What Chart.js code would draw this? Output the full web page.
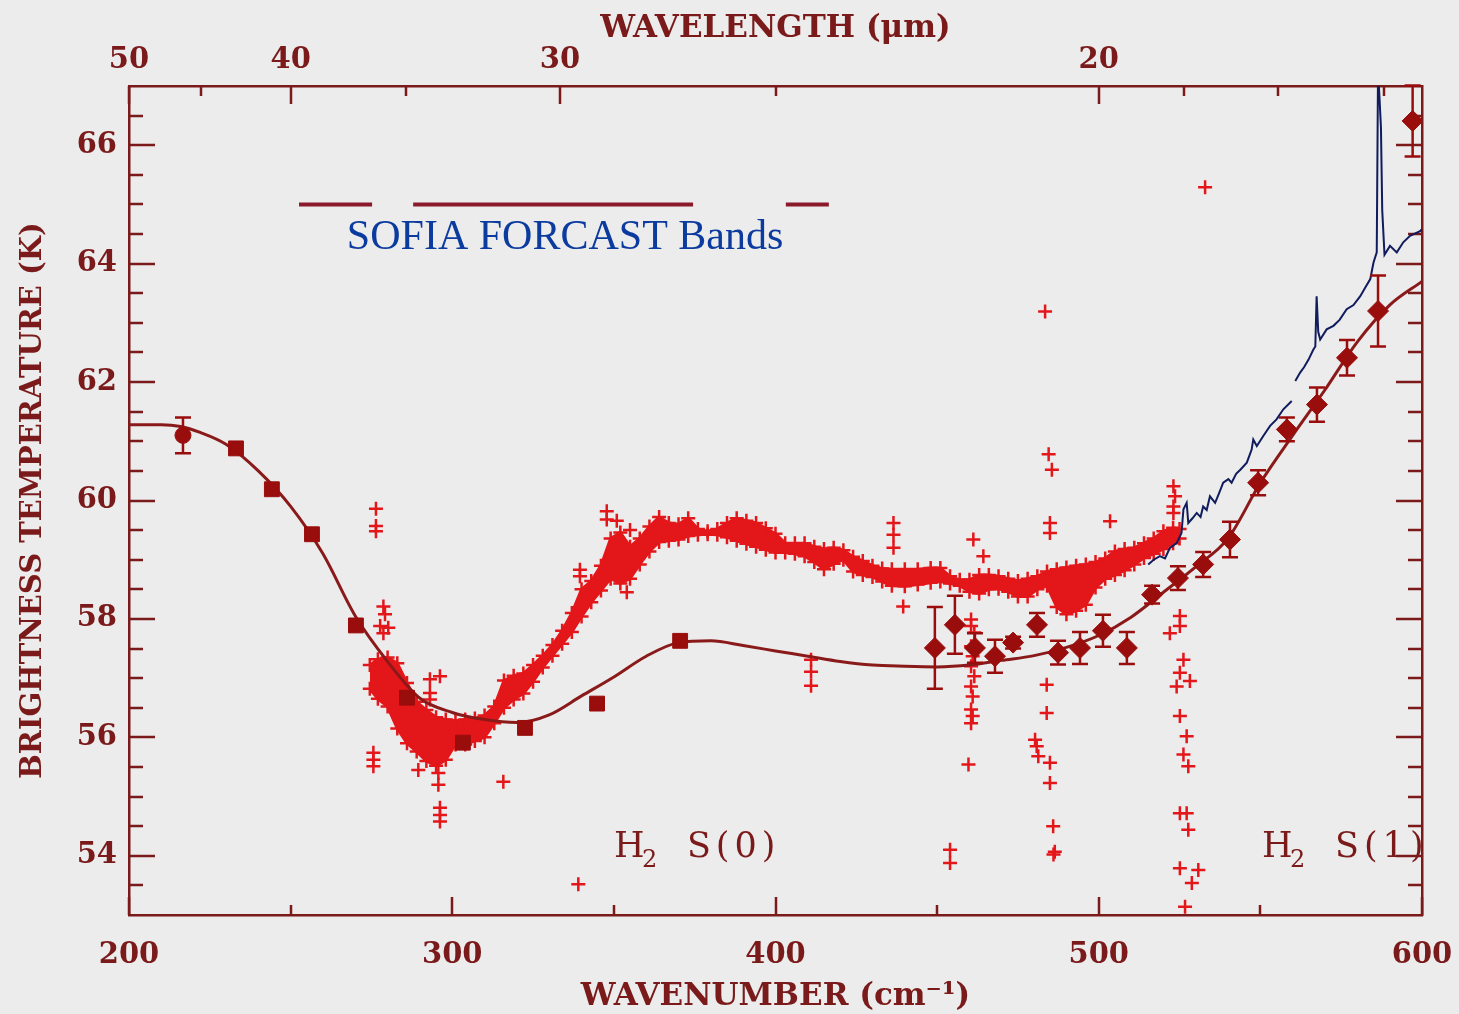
<!DOCTYPE html>
<html>
<head>
<meta charset="utf-8">
<title>Brightness temperature vs wavenumber</title>
<script src="https://cdn.jsdelivr.net/npm/chart.js@4.4.1/dist/chart.umd.min.js"></script>
<style>
  html, body { margin: 0; padding: 0; background: #ececec; }
  #wrap { width: 1459px; height: 1014px; position: relative; }
</style>
</head>
<body>
<div id="wrap"><canvas id="spec"></canvas></div>
<script>
/* ── colours ─────────────────────────────────────────── */
const C_AXIS  = '#7a1a1a';
const C_FIT   = '#8a1a1a';
const C_MARK  = '#9a0d0d';
const C_PLUS  = '#e3161a';
const C_NAVY  = '#101c5e';
const C_SOFIA = '#0b3b9f';

/* ── axis ticks ──────────────────────────────────────── */
const wnMajor   = [200, 300, 400, 500, 600];
const wnMinor   = [250, 350, 450, 550];
const tempMajor = [54, 56, 58, 60, 62, 64, 66];
const tempMinor = [53.5, 54.5, 55, 55.5, 56.5, 57, 57.5, 58.5, 59, 59.5, 60.5, 61,
                   61.5, 62.5, 63, 63.5, 64.5, 65, 65.5, 66.5];
const lamMajor  = [50, 40, 30, 20];          // µm
const lamMinor  = [45, 35, 25, 19, 18, 17];

/* ── model fit ───────────────────────────────────────── */
const fitWn = [200, 210, 216, 222, 230, 240, 250, 260, 270, 280, 290, 300, 310, 320, 330,
               340, 350, 360, 370, 380, 390, 400, 410, 420, 430, 440, 450, 460, 470, 480,
               490, 500, 510, 520, 530, 540, 550, 560, 570, 580, 590, 600];
const fitK  = [61.28, 61.28, 61.25, 61.15, 60.95, 60.5, 59.9, 59.1, 58.05, 57.28, 56.66, 56.42,
               56.3, 56.25, 56.38, 56.7, 57.02, 57.37, 57.6, 57.63, 57.55, 57.46, 57.37, 57.28,
               57.22, 57.2, 57.19, 57.22, 57.3, 57.38, 57.52, 57.72, 58.03, 58.45, 58.88, 59.36,
               60.3, 61.1, 61.87, 62.68, 63.3, 63.7];

/* ── broadband points ────────────────────────────────── */
const circWn = [216.7];
const circK  = [61.1];
const circErr = [0.3];

const sqWn = [233.1, 244.2, 256.6, 270.2, 286.0, 303.3, 322.5, 344.8, 370.5];
const sqK  = [60.88, 60.19, 59.43, 57.89, 56.67, 55.91, 56.16, 56.57, 57.63];

const dmWn  = [449.3, 455.5, 461.7, 467.9, 473.5, 480.9, 487.4, 494.2, 501.3, 508.7,
               516.5, 524.5, 532.3, 540.6, 549.3, 558.2, 567.5, 576.8, 586.4, 597.1];
const dmK   = [57.51, 57.9, 57.51, 57.37, 57.6, 57.9, 57.43, 57.51, 57.8, 57.51,
               58.41, 58.69, 58.92, 59.34, 60.3, 61.2, 61.62, 62.41, 63.2, 66.41];
const dmErr = [0.69, 0.49, 0.25, 0.28, 0.1, 0.2, 0.2, 0.27, 0.27, 0.27,
               0.15, 0.2, 0.21, 0.3, 0.21, 0.2, 0.29, 0.3, 0.6, 0.6];

/* ── spectrum: dense band of samples (upper / lower envelope) ── */
const bandWn = [274.5, 277, 280, 283, 286, 289, 292, 295, 298, 301, 304, 307, 310, 313, 316,
                319, 322, 325, 328, 331, 334, 337, 340, 343, 346, 349, 352, 355, 358, 361,
                364, 367, 370, 373, 376, 379, 382, 385, 388, 391, 394, 397, 400, 403, 406,
                409, 412, 415, 418, 421, 424, 427, 430, 433, 436, 440, 444, 448, 451, 454,
                457, 460, 463, 466, 469, 472, 475, 478, 481, 484, 487, 490, 493, 496, 499,
                502, 505, 508, 511, 514, 517, 520, 523, 525];
const bandHi = [57.22, 57.32, 57.35, 57.25, 56.92, 56.6, 56.46, 56.34, 56.3, 56.28, 56.3, 56.32, 56.37, 56.52, 56.96,
                57.04, 57.08, 57.22, 57.38, 57.56, 57.8, 58.1, 58.5, 58.64, 58.9, 59.36, 59.46, 59.22, 59.36, 59.56,
                59.72, 59.62, 59.6, 59.7, 59.52, 59.48, 59.52, 59.62, 59.7, 59.66, 59.62, 59.53, 59.44, 59.28, 59.28,
                59.28, 59.22, 59.18, 59.2, 59.16, 59.05, 58.98, 58.9, 58.85, 58.84, 58.84, 58.84, 58.86, 58.86, 58.72,
                58.66, 58.66, 58.74, 58.74, 58.72, 58.68, 58.64, 58.68, 58.72, 58.8, 58.84, 58.87, 58.9, 58.92, 58.96,
                59.02, 59.14, 59.18, 59.2, 59.28, 59.36, 59.48, 59.54, 59.52];
const bandLo = [56.82, 56.65, 56.52, 56.15, 55.9, 55.76, 55.6, 55.52, 55.62, 55.88, 55.88, 55.94, 56.0, 56.24, 56.5,
                56.64, 56.74, 56.94, 57.18, 57.38, 57.58, 57.78, 58.04, 58.28, 58.48, 58.68, 58.6, 58.68, 58.92, 59.14,
                59.3, 59.32, 59.34, 59.4, 59.42, 59.43, 59.42, 59.38, 59.32, 59.27, 59.22, 59.17, 59.12, 59.12, 59.1,
                59.06, 58.96, 58.84, 58.93, 59.0, 58.8, 58.74, 58.71, 58.63, 58.56, 58.55, 58.58, 58.61, 58.63, 58.6,
                58.56, 58.46, 58.43, 58.5, 58.51, 58.46, 58.38, 58.38, 58.5, 58.56, 58.2, 58.08, 58.14, 58.24, 58.53,
                58.68, 58.74, 58.82, 58.92, 59.03, 59.1, 59.18, 59.28, 59.36];

/* ── spectrum: scattered samples away from the band ──── */
const plusWn = [276.4, 276.4, 276.4, 278.7, 279.2, 277.7, 280.2, 278.7, 275.6, 275.6, 275.6,
                293.1, 296.2, 293.1, 293.1, 289.5, 295.7, 295.7, 296.2, 296.2, 296.2, 315.8, 339.0,
                339.5, 339.5, 347.8, 347.8, 350.9, 355.0, 354.0, 411.0, 411.0, 411.0,
                436.5, 436.5, 436.5, 439.5, 454.0, 454.0, 461.2, 464.3,
                460.5, 460.5, 461.5, 460.5, 461.0, 460.5, 461.5, 460.5, 461.0, 460.5, 461.0, 460.5, 459.7,
                483.4, 484.5, 485.5, 484.9, 484.9, 483.9, 483.9, 480.3, 480.8, 481.3, 484.9, 484.9,
                485.9, 486.4, 486.0, 503.5, 523.1, 523.6, 523.1, 523.1,
                525.1, 525.1, 522.0, 526.2, 525.1, 528.2, 524.1, 525.1, 527.2, 526.2, 527.7,
                525.1, 527.2, 527.7, 525.1, 530.8, 528.8, 526.7, 532.9];
const plusK  = [59.86, 59.57, 59.48, 58.21, 58.08, 57.88, 57.85, 57.76, 55.74, 55.62, 55.51,
                56.98, 57.03, 56.75, 56.64, 55.45, 55.4, 55.2, 54.81, 54.69, 54.58, 55.25, 53.52,
                58.83, 58.72, 59.82, 59.68, 59.66, 59.5, 58.45, 57.31, 57.11, 56.87,
                59.62, 59.42, 59.2, 58.21, 54.1, 53.88, 59.34, 59.06,
                57.99, 57.88, 57.77, 57.54, 57.37, 57.2, 57.03, 56.86, 56.69, 56.47, 56.36, 56.24, 55.54,
                63.19, 60.78, 60.52, 59.62, 59.45, 56.89, 56.41, 55.96, 55.85, 55.68, 55.57, 55.23,
                54.5, 54.07, 54.02, 59.65, 60.24, 60.07, 59.9, 59.79,
                58.05, 57.88, 57.76, 57.31, 57.09, 56.95, 56.86, 56.36, 56.02, 55.71, 55.51,
                54.72, 54.72, 54.44, 53.79, 53.76, 53.54, 53.14, 65.29];

/* ── second spectrum (dark line) ─────────────────────── */
const navyWn = [515.3, 517.0, 518.9, 520.5, 522.0, 524.1, 525.6, 526.2, 527.2, 527.7, 529.0, 530.3,
                531.5, 532.3, 533.4, 534.4, 536.0, 537.2, 538.5, 540.1, 541.1, 542.5, 543.8, 545.8,
                547.3, 547.8, 548.9, 550.9, 553.0, 555.0, 557.1, 559.7, 560.2,
                560.8, 562.3, 563.5, 564.9, 566.4, 567.0, 567.4, 567.9, 568.5, 570.5, 572.6, 574.5,
                576.7, 578.8, 580.9, 582.5, 584.0, 585.0, 586.0, 586.4, 587.3, 587.7, 588.4,
                590.1, 592.2, 594.2, 596.3, 599.4, 600.0];
const navyK  = [58.92, 59.0, 59.06, 59.02, 59.2, 59.28, 59.45, 59.85, 59.96, 59.62, 59.7, 59.79,
                59.72, 59.9, 59.84, 60.07, 59.96, 60.12, 60.3, 60.36, 60.3, 60.45, 60.52, 60.64,
                60.86, 61.03, 60.92, 61.09, 61.26, 61.37, 61.54, 61.68, null,
                62.02, 62.16, 62.25, 62.38, 62.55, 62.6, 63.45, 62.85, 62.72, 62.89, 62.95, 63.05,
                63.23, 63.3, 63.45, 63.6, 63.74, 64.02, 64.19, 67.3, 66.3, 64.9, 64.15,
                64.3, 64.19, 64.36, 64.47, 64.55, 64.58];

/* ── filter bands (cm⁻¹) ─────────────────────────────── */
const sofiaBands = [[252.6, 275.2], [287.9, 374.5], [403.2, 416.5]];
const sofiaLevel = 65;

/* ── text placed in data units ───────────────────────── */
const sofiaLabel = { text: 'SOFIA FORCAST Bands', x: 267.4, y: 64.24 };
const lineLabels = [
  { rest: 'S(0)', x: 350.0, y: 53.98 },
  { rest: 'S(1)', x: 550.5, y: 53.98 }
];

const pts = (xs, ys) => xs.map((x, i) => ({ x, y: ys[i] }));

/* ── plugins ─────────────────────────────────────────── */
const background = {
  id: 'background',
  beforeDraw(chart) {
    const { ctx, width, height } = chart;
    ctx.save();
    ctx.fillStyle = '#ececec';
    ctx.fillRect(0, 0, width, height);
    ctx.restore();
  }
};

// tick marks point into the plot on all four sides
const innerTicks = {
  id: 'innerTicks',
  beforeDatasetsDraw(chart) {
    const { ctx, chartArea: a, scales } = chart;
    const x = scales.x, y = scales.y, x2 = scales.x2;
    ctx.save();
    ctx.strokeStyle = C_AXIS;
    ctx.lineWidth = 2.5;
    ctx.beginPath();
    const bottomTick = (v, len) => {
      const px = Math.round(x.getPixelForValue(v));
      ctx.moveTo(px, a.bottom); ctx.lineTo(px, a.bottom - len);
    };
    const topTick = (lam, len) => {
      const px = Math.round(x2.getPixelForValue(10000 / lam));
      ctx.moveTo(px, a.top); ctx.lineTo(px, a.top + len);
    };
    const sideTick = (v, len) => {
      const py = Math.round(y.getPixelForValue(v));
      ctx.moveTo(a.left, py); ctx.lineTo(a.left + len, py);
      ctx.moveTo(a.right, py); ctx.lineTo(a.right - len, py);
    };
    wnMajor.forEach(v => bottomTick(v, 18));
    wnMinor.forEach(v => bottomTick(v, 10));
    lamMajor.forEach(v => topTick(v, 18));
    lamMinor.forEach(v => topTick(v, 10));
    tempMajor.forEach(v => sideTick(v, 26));
    tempMinor.forEach(v => sideTick(v, 14));
    ctx.stroke();
    ctx.restore();
  }
};

// vertical error bars, drawn just before their marker dataset
const errorBars = {
  id: 'errorBars',
  beforeDatasetDraw(chart, args) {
    const ds = chart.data.datasets[args.index];
    if (!ds.errors) return;
    const { ctx, scales: { x, y } } = chart;
    ctx.save();
    ctx.strokeStyle = C_MARK;
    ctx.lineWidth = 2.5;
    ctx.beginPath();
    ds.data.forEach((p, i) => {
      const e = ds.errors[i];
      if (!e) return;
      const px = x.getPixelForValue(p.x);
      const top = y.getPixelForValue(p.y + e);
      const bot = y.getPixelForValue(p.y - e);
      ctx.moveTo(px, top); ctx.lineTo(px, bot);
      ctx.moveTo(px - 8, top); ctx.lineTo(px + 8, top);
      ctx.moveTo(px - 8, bot); ctx.lineTo(px + 8, bot);
    });
    ctx.stroke();
    ctx.restore();
  }
};

const plotLabels = {
  id: 'plotLabels',
  afterDatasetsDraw(chart) {
    const { ctx, scales: { x, y } } = chart;
    ctx.save();
    ctx.textAlign = 'left';
    ctx.textBaseline = 'alphabetic';
    ctx.fillStyle = C_SOFIA;
    ctx.font = '42px "Liberation Serif"';
    ctx.fillText(sofiaLabel.text, x.getPixelForValue(sofiaLabel.x), y.getPixelForValue(sofiaLabel.y));

    ctx.fillStyle = C_AXIS;
    lineLabels.forEach(l => {
      const px = x.getPixelForValue(l.x), py = y.getPixelForValue(l.y);
      ctx.font = '35px "DejaVu Serif"';
      ctx.fillText('H', px, py);
      ctx.font = '24px "DejaVu Serif"';
      ctx.fillText('2', px + 28, py + 10);
      ctx.font = '35px "DejaVu Serif"';
      ctx.letterSpacing = '5px';
      ctx.fillText(l.rest, px + 73, py);
      ctx.letterSpacing = '0px';
    });
    ctx.restore();
  }
};

/* ── datasets ────────────────────────────────────────── */
const datasets = [
  {
    label: 'broadband (circle)', data: pts(circWn, circK), errors: circErr, order: 0,
    pointStyle: 'circle', pointRadius: 8, backgroundColor: C_MARK, borderColor: C_MARK
  },
  {
    label: 'broadband (squares)', data: pts(sqWn, sqK), order: 0,
    pointStyle: 'rect', pointRadius: 10.5, backgroundColor: C_MARK, borderColor: C_MARK
  },
  {
    label: 'broadband (diamonds)', data: pts(dmWn, dmK), errors: dmErr, order: 0,
    pointStyle: 'rectRot', pointRadius: 10.5, backgroundColor: C_MARK, borderColor: C_MARK
  },
  {
    label: 'model', data: pts(fitWn, fitK), order: 1, showLine: true,
    borderColor: C_FIT, borderWidth: 3, pointRadius: 0, cubicInterpolationMode: 'monotone'
  },
  {
    label: 'spectrum 2', data: pts(navyWn, navyK), order: 2, showLine: true, spanGaps: false,
    borderColor: C_NAVY, borderWidth: 2, pointRadius: 0, clip: 0
  },
  {
    label: 'spectrum scatter', data: pts(plusWn, plusK), order: 3,
    pointStyle: 'cross', pointRadius: 7, pointBorderWidth: 2.5, borderColor: C_PLUS
  },
  {
    label: 'spectrum upper', data: pts(bandWn, bandHi), order: 4, showLine: true,
    borderColor: C_PLUS, borderWidth: 3, backgroundColor: C_PLUS, fill: '+1',
    pointStyle: 'cross', pointRadius: 7, pointBorderWidth: 2.5, pointBorderColor: C_PLUS
  },
  {
    label: 'spectrum lower', data: pts(bandWn, bandLo), order: 5, showLine: true,
    borderColor: C_PLUS, borderWidth: 3, fill: false,
    pointStyle: 'cross', pointRadius: 7, pointBorderWidth: 2.5, pointBorderColor: C_PLUS
  }
];
sofiaBands.forEach(([a, b], i) => datasets.push({
  label: 'band ' + i, data: [{ x: a, y: sofiaLevel }, { x: b, y: sofiaLevel }], order: 6,
  showLine: true, borderColor: '#8a1a2a', borderWidth: 4, pointRadius: 0, borderCapStyle: 'butt'
}));

/* ── chart ───────────────────────────────────────────── */
Chart.defaults.font.family = '"DejaVu Serif", serif';
Chart.defaults.font.weight = 'bold';
Chart.defaults.font.size = 29;
Chart.defaults.color = C_AXIS;

const border = { display: true, color: C_AXIS, width: 2.5 };
const noSidePad = s => { s.paddingLeft = 0; s.paddingRight = 0; };

new Chart(document.getElementById('spec'), {
  type: 'scatter',
  data: { datasets },
  options: {
    responsive: true,
    maintainAspectRatio: false,
    animation: false,
    layout: { padding: 0 },
    plugins: { legend: { display: false }, tooltip: { enabled: false } },
    scales: {
      x: {
        type: 'linear', position: 'bottom', min: 200, max: 600,
        border, grid: { display: false, drawTicks: false },
        afterBuildTicks: s => { s.ticks = wnMajor.map(v => ({ value: v })); },
        afterFit: s => { s.height = 99; noSidePad(s); },
        ticks: { padding: 23, autoSkip: false, maxRotation: 0, color: C_AXIS },
        title: { display: true, text: 'WAVENUMBER (cm⁻¹)', color: C_AXIS, font: { size: 31 },
                 padding: { top: 0, bottom: -2 } }
      },
      x2: {
        type: 'linear', position: 'top', min: 200, max: 600,
        border, grid: { display: false, drawTicks: false },
        afterBuildTicks: s => { s.ticks = lamMajor.map(l => ({ value: 10000 / l })); },
        afterFit: s => { s.height = 86; noSidePad(s); },
        ticks: { padding: 8, autoSkip: false, maxRotation: 0, color: C_AXIS,
                 callback: v => String(Math.round(10000 / v)) },
        title: { display: true, text: 'WAVELENGTH (μm)', color: C_AXIS, font: { size: 31 },
                 padding: { top: 10, bottom: 0 } }
      },
      y: {
        type: 'linear', position: 'left', min: 53, max: 67,
        border, grid: { display: false, drawTicks: false },
        afterBuildTicks: s => { s.ticks = tempMajor.map(v => ({ value: v })); },
        afterFit: s => { s.width = 129; },
        ticks: { padding: 12, autoSkip: false, color: C_AXIS },
        title: { display: true, text: 'BRIGHTNESS TEMPERATURE (K)', color: C_AXIS, padding: { top: 16, bottom: 0 } }
      },
      y2: {
        type: 'linear', position: 'right', min: 53, max: 67,
        border, grid: { display: false, drawTicks: false },
        afterFit: s => { s.width = 37; },
        ticks: { display: false }
      }
    }
  },
  plugins: [background, innerTicks, errorBars, plotLabels]
});
</script>
</body>
</html>
